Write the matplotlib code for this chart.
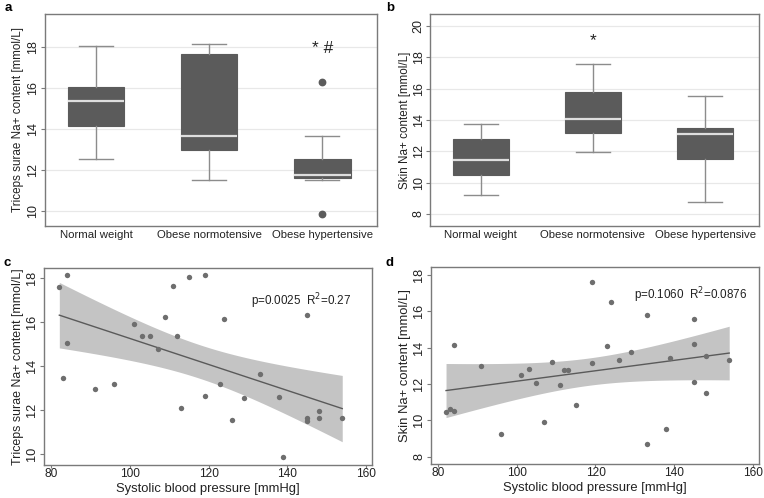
import numpy as np
import matplotlib
matplotlib.use("Agg")
import matplotlib.pyplot as plt

plt.rcParams['font.family'] = ['Liberation Sans', 'DejaVu Sans']

# ---------------- data ----------------
groups = ["Normal weight", "Obese normotensive", "Obese hypertensive"]

# panel a: triceps surae Na+ (whislo, q1, med, q3, whishi)
a_whislo = [12.53, 11.54, 11.51]
a_q1 = [14.13, 12.98, 11.64]
a_med = [15.38, 13.65, 11.78]
a_q3 = [16.07, 17.64, 12.55]
a_whishi = [18.06, 18.16, 13.67]
a_fliers = [[], [], [16.32, 9.87]]

# panel b: skin Na+
b_whislo = [9.23, 11.96, 8.74]
b_q1 = [10.51, 13.15, 11.53]
b_med = [11.45, 14.09, 13.09]
b_q3 = [12.77, 15.81, 13.51]
b_whishi = [13.74, 17.60, 15.55]
b_fliers = [[], [], []]

# panel c: SBP vs triceps surae Na+
c_sbp = [82, 83, 84, 84, 91, 96, 101, 103, 105, 107, 109, 111, 112, 113, 115,
         119, 119, 123, 124, 126, 129, 133, 138, 139, 145, 145, 145, 148, 148, 154]
c_na = [17.62, 13.46, 18.15, 15.04, 12.97, 13.19, 15.93, 15.37, 15.39, 14.80,
        16.22, 17.64, 15.36, 12.09, 18.06, 18.15, 12.65, 13.20, 16.16, 11.55,
        12.54, 13.66, 12.58, 9.86, 16.32, 11.65, 11.51, 11.96, 11.62, 11.65]

# panel d: SBP vs skin Na+
d_sbp = [82, 83, 84, 84, 91, 96, 101, 103, 105, 107, 109, 111, 112, 113, 115,
         119, 119, 123, 124, 126, 129, 133, 133, 138, 139, 145, 145, 145, 148, 148, 154]
d_na = [10.45, 10.63, 10.52, 14.13, 12.99, 9.25, 12.48, 12.82, 12.07, 9.91,
        13.19, 11.96, 12.75, 12.79, 10.85, 17.58, 13.14, 14.10, 16.49, 13.30,
        13.74, 15.81, 8.72, 9.51, 13.41, 15.55, 14.20, 12.13, 13.54, 11.51, 13.32]

c_text = "p=0.0025  R$^2$=0.27"
d_text = "p=0.1060  R$^2$=0.0876"

# ---------------- style ----------------
BOX = '#5b5b5b'
WHISK = '#8c8c8c'
MED = '#dedede'
FRAME = '#7a7a7a'
DOT = '#6e6e6e'
BAND = '#c4c4c4'
LINE = '#5a5a5a'
TXT = '#222222'

W, H = 764, 498
fig = plt.figure(figsize=(W / 100, H / 100), dpi=100)


def rect(l, t, r, b):
    return [l / W, 1 - b / H, (r - l) / W, (b - t) / H]


def style_axes(ax, ytick_fs, ylabel, ylabel_fs, ylab_x):
    for s in ax.spines.values():
        s.set_color(FRAME)
        s.set_linewidth(1.0)
    ax.tick_params(axis='y', colors=FRAME, labelcolor=TXT, labelsize=ytick_fs,
                   length=2.8, width=0.8, direction='out', pad=1.2)
    for lab in ax.get_yticklabels():
        lab.set_rotation(90)
        lab.set_va('center')
    ax.set_ylabel(ylabel, fontsize=ylabel_fs, color=TXT, va='center')
    ax.yaxis.set_label_coords(ylab_x, 0.5)


def box_panel(ax, whislo, q1, med, q3, whishi, fliers, ylim, yticks, ylabel, ylab_x):
    stats = []
    for i in range(len(groups)):
        stats.append(dict(med=med[i], q1=q1[i], q3=q3[i], whislo=whislo[i],
                          whishi=whishi[i], fliers=fliers[i], label=groups[i]))
    ax.bxp(stats, positions=[1, 2, 3], widths=0.5, capwidths=0.3, patch_artist=True,
           boxprops=dict(facecolor=BOX, edgecolor=BOX, linewidth=0.8),
           medianprops=dict(color=MED, linewidth=1.6),
           whiskerprops=dict(color=WHISK, linewidth=1.0),
           capprops=dict(color=WHISK, linewidth=1.0),
           flierprops=dict(marker='o', markerfacecolor=BOX, markeredgecolor=BOX,
                           markersize=4.6))
    ax.set_xlim(0.55, 3.48)
    ax.set_ylim(*ylim)
    ax.set_yticks(yticks)
    ax.yaxis.grid(True, color='#e8e8e8', linewidth=0.9)
    ax.set_axisbelow(True)
    style_axes(ax, 9.0, ylabel, 8.4, ylab_x)
    ax.tick_params(axis='x', length=0, pad=3.0, labelsize=8.2, labelcolor=TXT)


def fit_panel(ax, x, y, text, tx, ty):
    x = np.asarray(x, float)
    y = np.asarray(y, float)
    n = len(x)
    slope, icpt = np.polyfit(x, y, 1)
    xs = np.linspace(x.min(), x.max(), 100)
    yhat = icpt + slope * xs
    resid = y - (icpt + slope * x)
    s = np.sqrt(np.sum(resid ** 2) / (n - 2))
    se = s * np.sqrt(1 / n + (xs - x.mean()) ** 2 / np.sum((x - x.mean()) ** 2))
    t = 2.05
    ax.fill_between(xs, yhat - t * se, yhat + t * se, color=BAND, linewidth=0, zorder=1)
    ax.plot(xs, yhat, color=LINE, linewidth=1.0, zorder=2)
    ax.scatter(x, y, s=15, color=DOT, linewidths=0, zorder=3)
    ax.set_xlim(78.1, 161.5)
    ax.set_xticks([80, 100, 120, 140, 160])
    ax.tick_params(axis='x', colors=FRAME, labelcolor=TXT, labelsize=8.6,
                   length=2.2, width=0.8, direction='out', pad=0.3)
    ax.set_xlabel("Systolic blood pressure [mmHg]", fontsize=9.4, color=TXT, va='center')
    ax.xaxis.set_label_coords(0.5, -0.124)
    ax.text(tx, ty, text, transform=ax.transAxes, ha='left', va='center',
            fontsize=8.4, color=TXT)


# panel a
axa = fig.add_axes(rect(45, 14, 376.7, 226))
box_panel(axa, a_whislo, a_q1, a_med, a_q3, a_whishi, a_fliers, (9.28, 19.61),
          [10, 12, 14, 16, 18], "Triceps surae Na+ content [mmol/L]", -0.081)
axa.text(3, 17.95, "* #", ha='center', va='center', fontsize=12.5, color=TXT)

# panel b
axb = fig.add_axes(rect(430.3, 14, 759, 226))
box_panel(axb, b_whislo, b_q1, b_med, b_q3, b_whishi, b_fliers, (7.23, 20.77),
          [8, 10, 12, 14, 16, 18, 20], "Skin Na+ content [mmol/L]", -0.077)
axb.text(2, 19.1, "*", ha='center', va='center', fontsize=12.5, color=TXT)

# panel c
axc = fig.add_axes(rect(44, 268, 371.7, 464.7))
fit_panel(axc, c_sbp, c_na, c_text, 0.631, 0.829)
axc.set_ylim(9.51, 18.47)
axc.set_yticks([10, 12, 14, 16, 18])
style_axes(axc, 9.2, "Triceps surae Na+ content [mmol/L]", 8.9, -0.079)

# panel d
axd = fig.add_axes(rect(430.7, 267.3, 758.7, 464))
fit_panel(axd, d_sbp, d_na, d_text, 0.619, 0.859)
axd.set_ylim(7.6, 18.41)
axd.set_yticks([8, 10, 12, 14, 16, 18])
style_axes(axd, 9.2, "Skin Na+ content [mmol/L]", 9.4, -0.078)

# panel letters
for lab, (px, py) in zip("abcd", [(8, 8), (390, 8), (7, 263), (389, 263)]):
    fig.text(px / W, 1 - py / H, lab, fontsize=9.5, fontweight='bold', ha='center', va='center')

fig.savefig("out.png", dpi=100)
